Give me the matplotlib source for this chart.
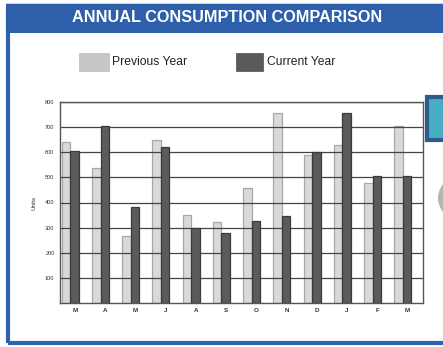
import matplotlib
matplotlib.use('Agg')
import matplotlib.pyplot as plt
from matplotlib.patches import Rectangle, Circle
import numpy as np

plt.rcParams['font.family'] = ['Liberation Sans', 'DejaVu Sans']

# 월별 사용량 (전년 / 금년)
months = ['M', 'A', 'M', 'J', 'A', 'S', 'O', 'N', 'D', 'J', 'F', 'M']
prev_year = [640, 537, 268, 651, 349, 323, 456, 757, 591, 628, 479, 704]
curr_year = [607, 704, 383, 620, 299, 280, 328, 348, 601, 757, 505, 505]
y_ticks = [100, 200, 300, 400, 500, 600, 700, 800]

W, H = 443, 347
fig = plt.figure(figsize=(W / 100, H / 100), dpi=100)
fig.patch.set_facecolor('white')


def px_rect(x0, y0, x1, y1, **kw):
    # 픽셀 좌표(위에서 아래로)를 figure 좌표로 바꿔서 사각형 추가
    r = Rectangle((x0 / W, 1 - y1 / H), (x1 - x0) / W, (y1 - y0) / H,
                  transform=fig.transFigure, **kw)
    fig.patches.append(r)
    return r


# 파란 테두리 패널
px_rect(7.5, 10, 460, 342.5, facecolor='none', edgecolor='#2e62b0', linewidth=3)
px_rect(6, 4, 443, 33, facecolor='#2d5fab', edgecolor='none')
px_rect(6, 2.5, 443, 4, facecolor='#c9d6ec', edgecolor='none')
fig.text(227 / W, 1 - 17 / H, 'ANNUAL CONSUMPTION COMPARISON', color='white',
         fontsize=11.7, fontweight='bold', ha='center', va='center')

# 오른쪽 옆 요소 (잘린 부분)
px_rect(427, 97.5, 445, 140, facecolor='#49adc6', edgecolor='#2f5b8c', linewidth=3)
fig.patches.append(Circle((473 / W, 1 - 198 / H), 35 / W, transform=fig.transFigure,
                          facecolor='#b4b4b4', edgecolor='none'))

# 범례
px_rect(79, 53, 109, 71, facecolor='#c6c6c6', edgecolor='#bcbcbc', linewidth=0.5)
fig.text(112 / W, 1 - 62 / H, 'Previous Year', fontsize=8.7, color='#222222', va='center')
px_rect(236, 53, 263, 71, facecolor='#5a5a5a', edgecolor='#505050', linewidth=0.5)
fig.text(267 / W, 1 - 62 / H, 'Current Year', fontsize=8.7, color='#222222', va='center')

ax = fig.add_axes([60 / W, 1 - 302.7 / H, 362.7 / W, 200.4 / H])
x = np.arange(len(months))
bw = 0.28
ax.bar(x - 0.30, prev_year, width=bw, color='#d9d9d9', edgecolor='#a8a8a8',
       linewidth=0.9, zorder=1)
ax.bar(x - 0.02, curr_year, width=bw, color='#5b5b5b', edgecolor='#3a3a3a',
       linewidth=0.9, zorder=2)

ax.set_xlim(-0.5, 11.5)
ax.set_ylim(0, 800)
ax.set_yticks(y_ticks)
ax.set_yticklabels([str(v) for v in y_ticks], fontsize=4, color='#333333')
ax.set_xticks(x)
ax.set_xticklabels(months, fontsize=4.5, fontweight='bold', color='#333333')
ax.tick_params(axis='both', length=0, pad=4)
ax.yaxis.grid(True, color='#444444', linewidth=0.9)
ax.set_axisbelow('line')
for s in ax.spines.values():
    s.set_color('#555555')
    s.set_linewidth(1)
ax.set_ylabel('Units', fontsize=4.5, color='#333333', labelpad=6)

fig.savefig('out.png', dpi=100)
